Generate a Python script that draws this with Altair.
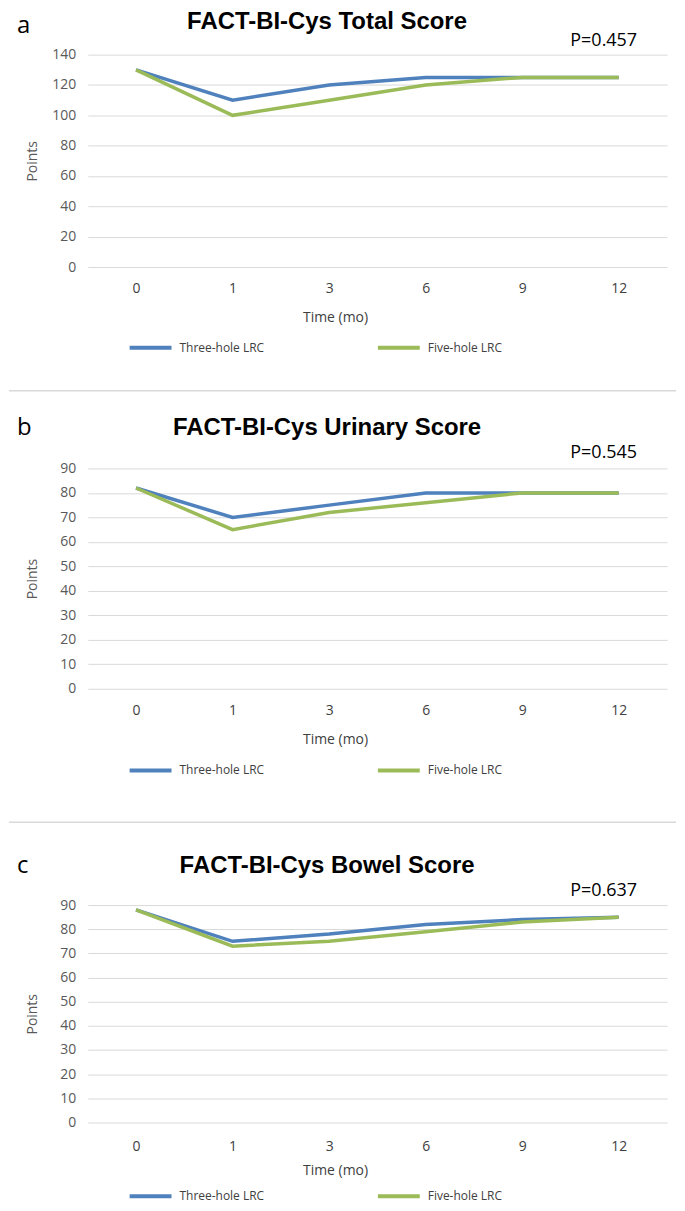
import altair as alt
import pandas as pd

# ---------------- data ----------------
time_labels = ["0", "1", "3", "6", "9", "12"]
series_names = ["Three-hole LRC", "Five-hole LRC"]

total_three = [130, 110, 120, 125, 125, 125]
total_five = [130, 100, 110, 120, 125, 125]
urinary_three = [82, 70, 75, 80, 80, 80]
urinary_five = [82, 65, 72, 76, 80, 80]
bowel_three = [88, 75, 78, 82, 84, 85]
bowel_five = [88, 73, 75, 79, 83, 85]

panel_titles = ["FACT-BI-Cys Total Score", "FACT-BI-Cys Urinary Score", "FACT-BI-Cys Bowel Score"]
panel_letters = ["a", "b", "c"]
p_values = ["P=0.457", "P=0.545", "P=0.637"]
y_max = [140, 90, 90]
y_step = [20, 10, 10]

# ---------------- styling ----------------
FONT = "Open Sans"
TITLE_FONT = "Liberation Sans"
colors = ["#4F81BD", "#9BBB59"]
W = 581
heights = [213, 221, 218]
title_y = [-33, -41, -39]
letter_y = [-29, -41, -39]
p_y = [-14, -15, -14]
label_pad = [22, 22, 24]
time_y = [51, 51, 48]
legend_y = [286, 295, 284]
top_sep = [None, -78, -83]
bottom_rule = [336, 354, None]
one = pd.DataFrame({"k": [0]})


def panel(i, three, five):
    H = heights[i]
    df = pd.DataFrame({
        "Time": time_labels * 2,
        "Points": three + five,
        "Group": [series_names[0]] * len(time_labels) + [series_names[1]] * len(time_labels),
    })
    lines = alt.Chart(df).mark_line(strokeWidth=3.5).encode(
        x=alt.X("Time:N", sort=time_labels,
                scale=alt.Scale(type="point", padding=0.5),
                axis=alt.Axis(title="Time (mo)", labelAngle=0, domain=False, ticks=False,
                              grid=False, labelPadding=label_pad[i], labelBaseline="middle",
                              labelFontSize=14, labelColor="#404040", labelFont=FONT,
                              titleFont=FONT, titleFontSize=14, titleFontWeight="normal",
                              titleColor="#404040", titleX=248, titleY=time_y[i],
                              titleBaseline="middle", titleAlign="center")),
        y=alt.Y("Points:Q",
                scale=alt.Scale(domain=[0, y_max[i]], nice=False, zero=True),
                axis=alt.Axis(title="Points", values=list(range(0, y_max[i] + 1, y_step[i])),
                              domain=False, ticks=False, gridColor="#d9d9d9", gridWidth=1,
                              labelPadding=12, labelColor="#595959", labelFontSize=14,
                              labelFont=FONT, titleFont=FONT, titleFontSize=14,
                              titleFontWeight="normal", titleColor="#595959",
                              titleX=-55, titleY=H / 2, titleAngle=-90,
                              titleAlign="center", titleBaseline="middle")),
        color=alt.Color("Group:N", sort=series_names,
                        scale=alt.Scale(domain=series_names, range=colors),
                        legend=alt.Legend(title=None, orient="none", legendX=40,
                                          legendY=legend_y[i], direction="horizontal",
                                          symbolType="stroke", symbolStrokeWidth=4,
                                          symbolSize=1764, clipHeight=16,
                                          labelFontSize=12, labelColor="#404040",
                                          labelFont=FONT, labelOffset=6,
                                          columnPadding=112)),
    )
    layers = [lines]
    layers.append(alt.Chart(one).mark_text(text=panel_titles[i], font=TITLE_FONT,
                                           fontSize=24, fontWeight="bold", color="#000000",
                                           align="center", baseline="middle")
                  .encode(x=alt.value(240), y=alt.value(title_y[i])))
    layers.append(alt.Chart(one).mark_text(text=panel_letters[i], font=FONT, fontSize=24,
                                           color="#000000", align="left", baseline="middle")
                  .encode(x=alt.value(-71), y=alt.value(letter_y[i])))
    layers.append(alt.Chart(one).mark_text(text=p_values[i], font=FONT, fontSize=18,
                                           color="#000000", align="right", baseline="middle")
                  .encode(x=alt.value(551), y=alt.value(p_y[i])))
    if top_sep[i] is not None:
        layers.append(alt.Chart(one).mark_rule(color="#d9d9d9", strokeWidth=1.5)
                      .encode(x=alt.value(-79), x2=alt.value(590), y=alt.value(top_sep[i])))
    if bottom_rule[i] is not None:
        layers.append(alt.Chart(one).mark_rule(opacity=0, strokeWidth=1)
                      .encode(x=alt.value(-79), x2=alt.value(590), y=alt.value(bottom_rule[i])))
    return alt.layer(*layers).properties(width=W, height=H)


chart = alt.vconcat(
    panel(0, total_three, total_five),
    panel(1, urinary_three, urinary_five),
    panel(2, bowel_three, bowel_five),
    spacing=0,
).resolve_scale(color="independent", x="independent", y="independent").resolve_legend(
    color="independent"
).configure(
    padding=0,
    background="#ffffff",
).configure_view(stroke=None)

chart.save("out.html", embed_options={"renderer": "svg", "actions": False})
